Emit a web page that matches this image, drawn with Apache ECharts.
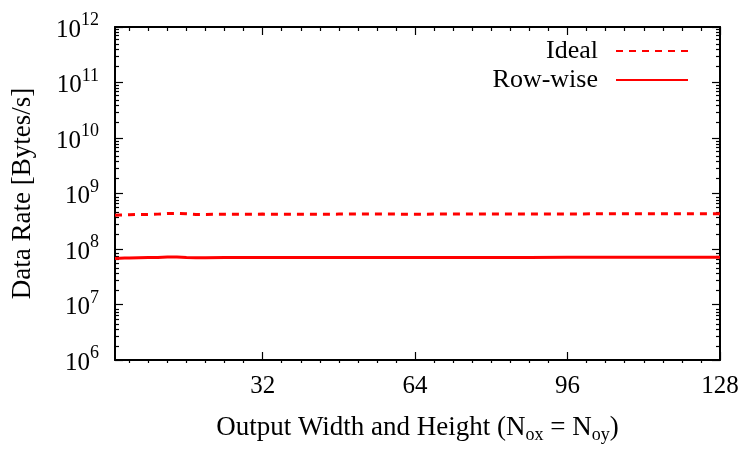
<!DOCTYPE html>
<html><head><meta charset="utf-8">
<script src="https://cdn.jsdelivr.net/npm/echarts@6/dist/echarts.min.js"></script>
<style>html,body{margin:0;padding:0;background:#fff}#c{width:746px;height:449px}</style>
</head><body><div id="c"></div>
<script>
const xValues = [1,2,3,4,6,8,10,12,14,16,18,20,24,28,32,40,48,56,64,72,80,88,96,104,112,120,128];
const idealRate = [4.05e8,4.1e8,4.12e8,4.15e8,4.18e8,4.2e8,4.25e8,4.35e8,4.38e8,4.3e8,4.2e8,4.2e8,4.22e8,4.22e8,4.25e8,4.22e8,4.25e8,4.26e8,4.24e8,4.27e8,4.28e8,4.27e8,4.29e8,4.3e8,4.3e8,4.31e8,4.32e8];
const rowwiseRate = [6.75e7,6.8e7,6.85e7,6.9e7,6.95e7,7.0e7,7.05e7,7.15e7,7.2e7,7.05e7,6.95e7,6.95e7,7.0e7,7.0e7,7.05e7,7.0e7,7.02e7,7.05e7,7.03e7,7.05e7,7.06e7,7.05e7,7.07e7,7.08e7,7.08e7,7.09e7,7.1e7];
const seriesNames = ['Ideal','Row-wise'];
const xTickLabels = [32,64,96,128];
const xMinorTicks = [4,8,12,16,20,24,28,36,40,44,48,52,56,60,68,72,76,80,84,88,92,100,104,108,112,116,120,124];
const yMajorTicks = [1e6,1e7,1e8,1e9,1e10,1e11,1e12];
const yMinorTicks = [];
for (let e = 6; e < 12; e++) for (let m = 2; m <= 9; m++) yMinorTicks.push(m * Math.pow(10, e));

const FONT = 'Liberation Serif';
const AX = {color:'#000', width:2};
const chart = echarts.init(document.getElementById('c'), null, {renderer:'canvas'});
const gridRect = {left:115, right:26, top:27, bottom:86};
function xAx(grid, pos, major, showLbl, name) {
  return {
    type:'value', gridIndex:grid, position:pos, min:1, max:128,
    axisLine:{show:major, lineStyle:AX, onZero:false},
    splitLine:{show:false},
    axisTick:{show:true, inside:true, length: major?8:4, lineStyle:{color:'#000', width:1.2},
      customValues: major ? xTickLabels : xMinorTicks},
    axisLabel:{show:showLbl, customValues:xTickLabels, margin:14, color:'#000', fontFamily:FONT, fontSize:25},
    name: name || '', nameLocation:'middle', nameGap:52,
    nameTextStyle:{color:'#000', fontFamily:FONT, fontSize:27,
      rich:{sub:{fontSize:18, fontFamily:FONT, color:'#000', verticalAlign:'bottom', padding:[14,0,0,0]}}}
  };
}
function yAx(grid, pos, major, showLbl, name) {
  return {
    type:'log', logBase:10, gridIndex:grid, position:pos, min:1e6, max:1e12,
    axisLine:{show:major, lineStyle:AX},
    splitLine:{show:false}, minorTick:{show:false},
    axisTick:{show:true, inside:true, length: major?8:4, lineStyle:{color:'#000', width:1.2},
      customValues: major ? yMajorTicks : yMinorTicks},
    axisLabel:{show:showLbl, customValues:yMajorTicks, margin:16, color:'#000',
      formatter: v => '{b|10}{s|' + Math.round(Math.log10(v)) + '}',
      rich:{b:{fontFamily:FONT, fontSize:25, color:'#000', verticalAlign:'bottom', padding:[6,0,0,0]},
            s:{fontFamily:FONT, fontSize:18, color:'#000', verticalAlign:'top'}}},
    name: name || '', nameLocation:'middle', nameGap:79,
    nameTextStyle:{color:'#000', fontFamily:FONT, fontSize:27}
  };
}
chart.setOption({
  animation:false,
  backgroundColor:'#fff',
  grid:[Object.assign({}, gridRect), Object.assign({}, gridRect)],
  legend:{
    show:true, orient:'vertical', right:52, top:33, align:'right',
    itemWidth:72, itemHeight:14, itemGap:3,
    itemStyle:{opacity:0, borderWidth:0},
    textStyle:{color:'#000', fontFamily:FONT, fontSize:26, lineHeight:23, padding:[0,13,0,0]},
    data: seriesNames
  },
  xAxis:[
    xAx(0,'bottom',true,true,'Output Width and Height (N{sub|ox} = N{sub|oy})'),
    xAx(0,'top',true,false),
    xAx(1,'bottom',false,false),
    xAx(1,'top',false,false)
  ],
  yAxis:[
    yAx(0,'left',true,true,'Data Rate [Bytes/s]'),
    yAx(0,'right',true,false),
    yAx(1,'left',false,false),
    yAx(1,'right',false,false)
  ],
  series:[
    {name:seriesNames[0], type:'line', xAxisIndex:0, yAxisIndex:0, symbol:'none', showSymbol:false,
     data: xValues.map((x,i)=>[x, idealRate[i]]),
     itemStyle:{color:'#ff0000'}, lineStyle:{color:'#ff0000', width:3, type:[7,6]}},
    {name:seriesNames[1], type:'line', xAxisIndex:0, yAxisIndex:0, symbol:'none', showSymbol:false,
     data: xValues.map((x,i)=>[x, rowwiseRate[i]]),
     itemStyle:{color:'#ff0000'}, lineStyle:{color:'#ff0000', width:3}}
  ]
});
</script></body></html>
